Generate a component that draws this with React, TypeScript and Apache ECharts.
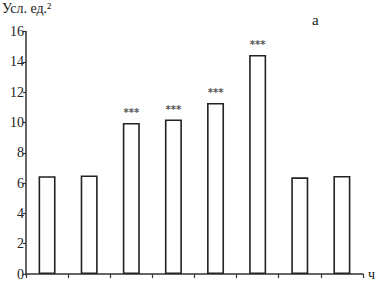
import React, { useEffect, useRef } from "react";
import * as echarts from "echarts";

const categories = ["1", "2", "3", "4", "5", "6", "7", "8"];
const values = [6.45, 6.5, 9.97, 10.2, 11.29, 14.45, 6.38, 6.47];
const marks = ["", "", "***", "***", "***", "***", "", ""];
const yTicks = [0, 2, 4, 6, 8, 10, 12, 14, 16];

const FONT = "'Liberation Serif', 'Times New Roman', serif";

export default function App() {
  const ref = useRef<HTMLDivElement>(null);
  useEffect(() => {
    if (!ref.current) return;
    const chart = echarts.init(ref.current, undefined, { renderer: "svg" });
    chart.setOption({
      animation: false,
      backgroundColor: "#fff",
      grid: { left: 26, right: 15, top: 31.5, bottom: 7, containLabel: false },
      xAxis: {
        type: "category",
        data: categories,
        boundaryGap: true,
        name: "ч",
        nameLocation: "end",
        nameGap: 5,
        nameTextStyle: { fontFamily: FONT, fontSize: 14, color: "#222", verticalAlign: "middle", padding: [0, 0, 2, 0] },
        axisLine: { lineStyle: { color: "#333", width: 1.5 } },
        axisTick: { show: true, length: 4, inside: false, lineStyle: { color: "#333", width: 1.2 }, interval: 0 },
        axisLabel: { show: false },
        splitLine: { show: false },
      },
      yAxis: {
        type: "value",
        min: yTicks[0],
        max: yTicks[yTicks.length - 1],
        interval: 2,
        axisLine: { show: true, lineStyle: { color: "#333", width: 1.5 } },
        axisTick: { show: true, length: 3, lineStyle: { color: "#333", width: 1.2 } },
        axisLabel: { fontFamily: FONT, fontSize: 14, color: "#222", margin: 2 },
        splitLine: { show: false },
      },
      series: [
        {
          type: "bar",
          data: values.map((v, i) => ({ value: v, mark: marks[i] })),
          barWidth: 17,
          itemStyle: { color: "#fff", borderColor: "#222", borderWidth: 1.6 },
          label: {
            show: true,
            position: "top",
            distance: 5,
            formatter: (p: any) => marks[p.dataIndex],
            fontFamily: "'DejaVu Sans', sans-serif",
            fontSize: 10,
            fontWeight: "bold",
            color: "#555",
          },
        },
      ],
      graphic: [
        {
          type: "text",
          left: 2,
          top: 1,
          style: { text: "Усл. ед.²", font: `14px ${FONT}`, fill: "#222" },
        },
        {
          type: "text",
          left: 312,
          top: 12,
          style: { text: "а", font: `15px ${FONT}`, fill: "#222" },
        },
      ],
    });
    return () => chart.dispose();
  }, []);
  return <div ref={ref} style={{ width: 378, height: 281, position: "absolute", left: 0, top: 0 }} />;
}
